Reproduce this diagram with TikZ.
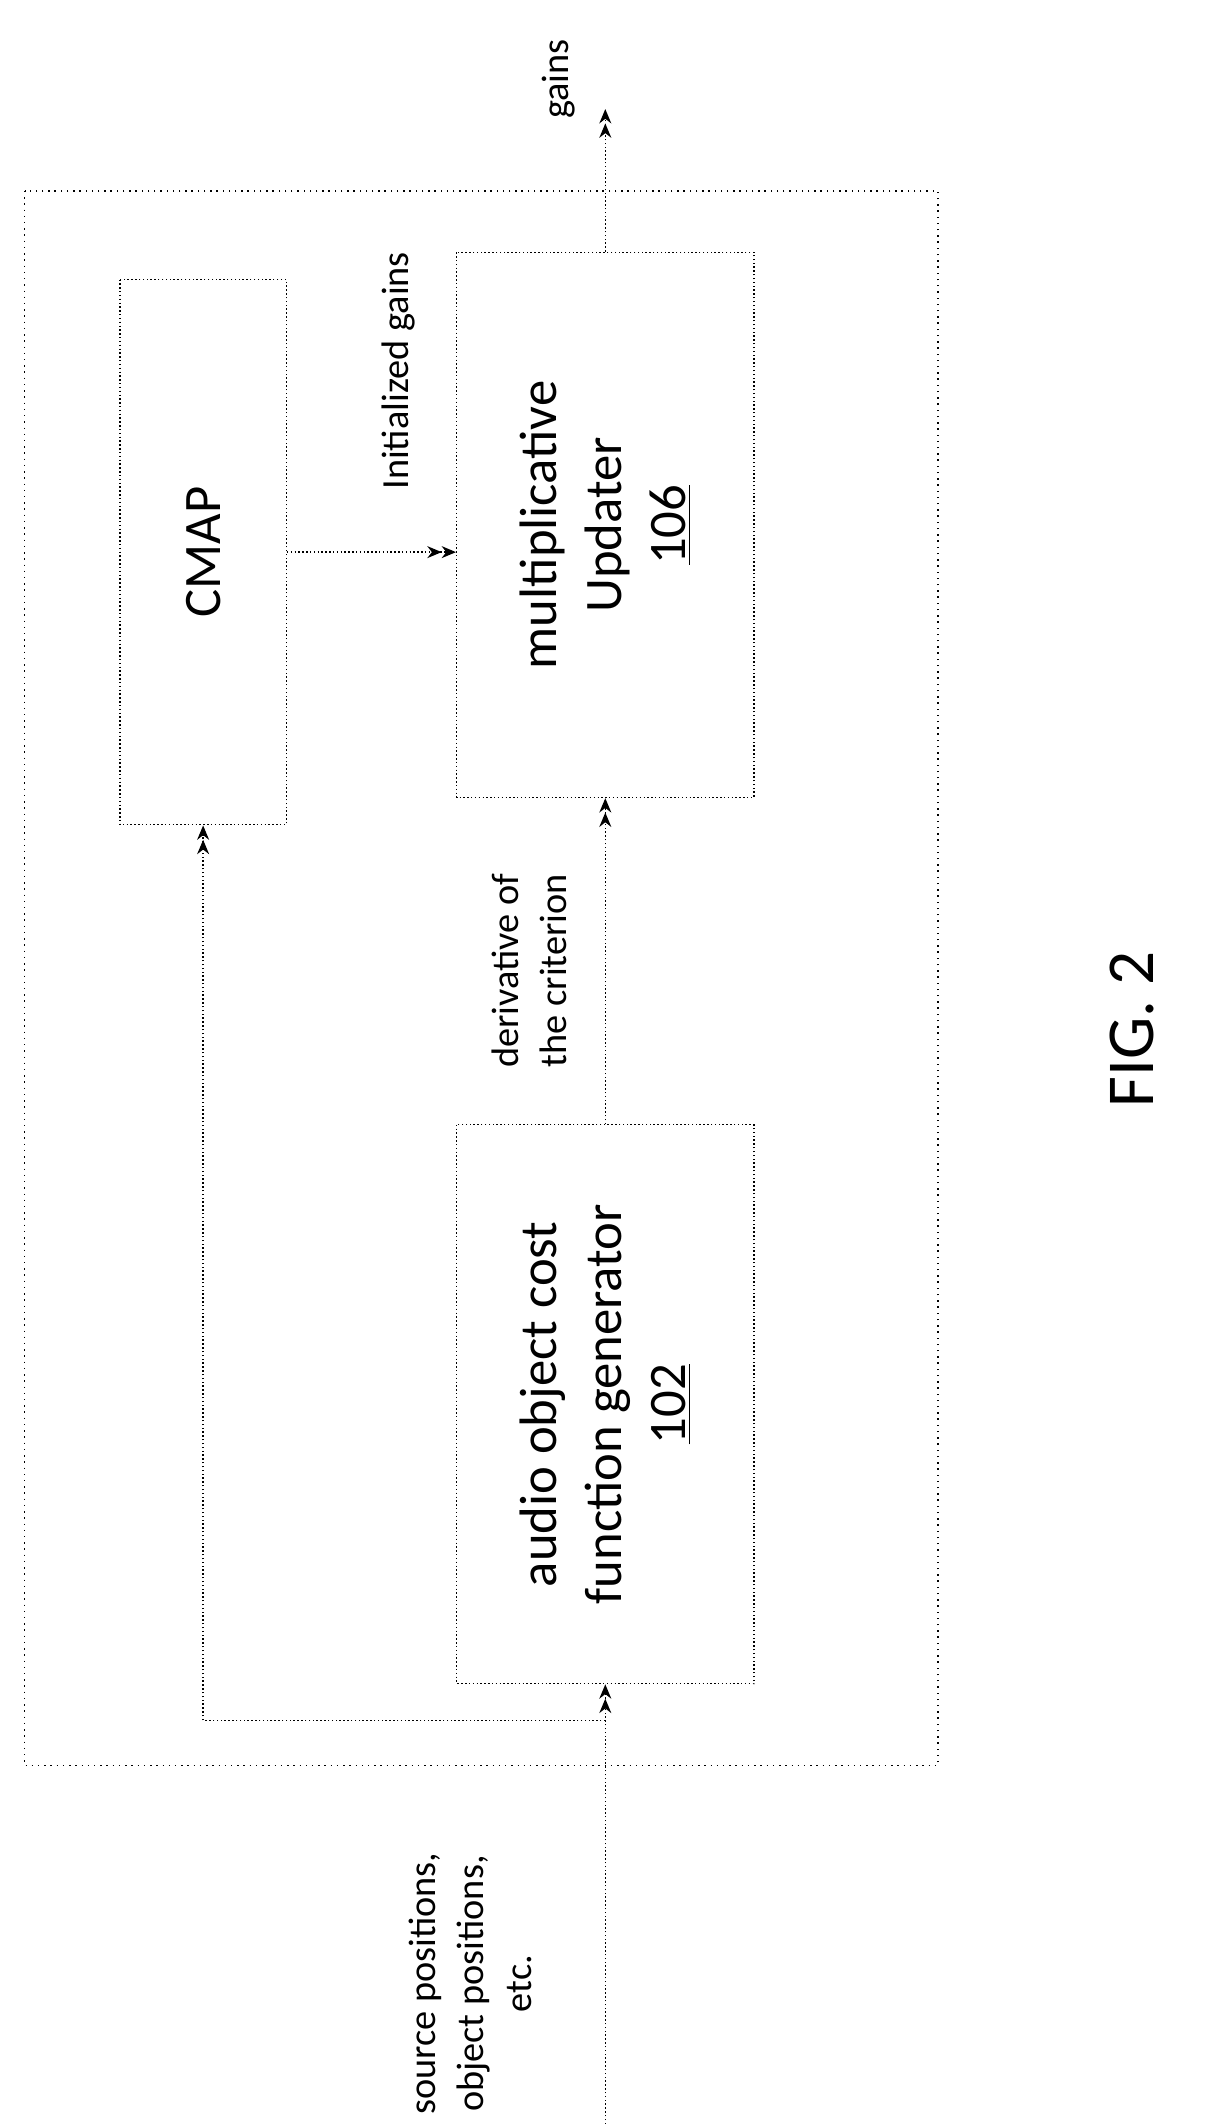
\documentclass[tikz,border=0pt]{standalone}
\usepackage{fontspec}
\setmainfont{Carlito}
\usetikzlibrary{positioning,arrows.meta}

\begin{document}
\begin{tikzpicture}[x=0.02cm,y=-0.02cm,
  box/.style={draw, densely dotted, semithick, rotate=90, align=center, font=\fontsize{22}{27}\selectfont},
  lbl/.style={rotate=90, align=center, font=\fontsize{16}{20}\selectfont},
  flow/.style={densely dotted, semithick, -{Stealth[length=6pt,width=5pt]Stealth[length=6pt,width=5pt]}}]
\useasboundingbox (0,0) rectangle (890,1558);
\draw[dotted, semithick] (18,140) rectangle (688,1295);
\node[box, minimum width=8cm, minimum height=2.44cm] (cmap) at (149,405) {CMAP};
\node[box, minimum width=8cm, minimum height=4.36cm] (upd) at (444,385) {multiplicative\\Updater\\\underline{106}};
\node[box, minimum width=8.2cm, minimum height=4.36cm] (aud) at (444,1030) {audio object cost\\function generator\\\underline{102}};
\coordinate (in) at (444,1558);
\coordinate (br) at (444,1262);
\coordinate (out) at (444,80);
\draw[flow] (cmap.south) -- (cmap.south -| upd.north);
\draw[flow] (aud.east) -- (upd.west);
\draw[flow] (in) -- (aud.west);
\draw[flow] (br) -| (cmap.west);
\draw[flow] (upd.east) -- (out);
\node[lbl] (lini) at (292,272) {Initialized gains};
\node[lbl] (lder) at (388,712) {derivative of\\the criterion};
\node[lbl] (lgain) at (410,58) {gains};
\node[lbl] (lsrc) at (345,1455) {source positions,\\object positions,\\etc.};
\node[rotate=90, font=\fontsize{28}{34}\selectfont] (fig) at (830,755) {FIG. 2};
\end{tikzpicture}
\end{document}
